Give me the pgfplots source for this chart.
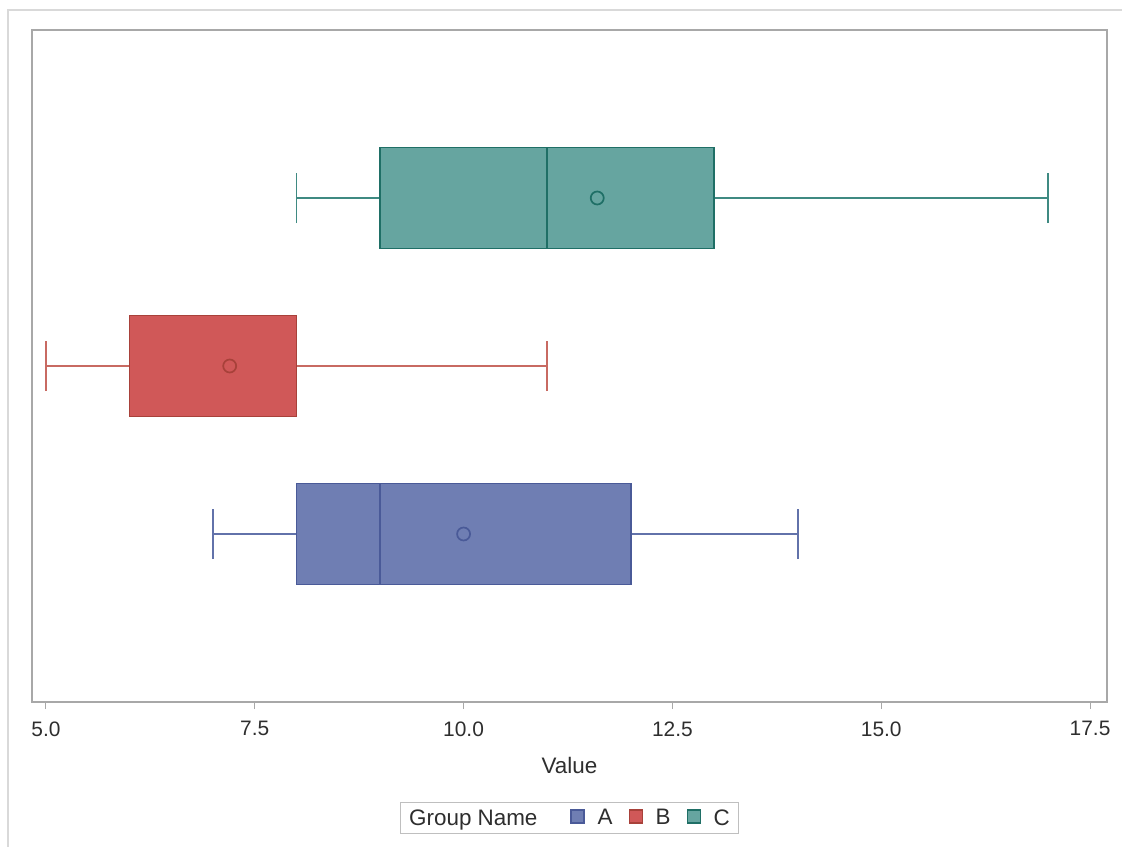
\documentclass[border=0pt]{standalone}
\usepackage{pgfplots}
\pgfplotsset{compat=1.18}
\usepgfplotslibrary{statistics}
\usepackage{fontspec}
\setmainfont{Liberation Sans}
\definecolor{Afill}{HTML}{6F7EB3}
\definecolor{Aline}{HTML}{4A5A98}
\definecolor{Awh}{HTML}{6272AA}
\definecolor{Bfill}{HTML}{D05858}
\definecolor{Bline}{HTML}{A8413A}
\definecolor{Bwh}{HTML}{C86A62}
\definecolor{Cfill}{HTML}{66A5A0}
\definecolor{Cline}{HTML}{1F6F66}
\definecolor{Cwh}{HTML}{3F8A82}
\definecolor{framec}{HTML}{A8A8A8}
\definecolor{txt}{HTML}{2E2E2E}
\begin{document}
\begin{tikzpicture}
\path[use as bounding box] (0,0) rectangle (1122bp,847bp);
\draw[color=black!15, line width=1.5bp] (8bp,0) -- (8bp,837bp) -- (1122bp,837bp);
\begin{axis}[
  at={(32bp,145bp)}, anchor=south west, scale only axis,
  width=1075bp, height=672bp,
  xmin=4.833, xmax=17.703, ymin=0, ymax=4,
  ytick=\empty,
  xtick={5,7.5,10,12.5,15,17.5},
  xtick pos=lower,
  tick align=outside,
  major tick length=7bp,
  tick style={color=framec, line width=1bp},
  axis line style={color=framec, line width=1.3bp},
  xticklabel style={font=\fontsize{21}{25}\selectfont, text=txt, yshift=-9bp,
    /pgf/number format/.cd, fixed, fixed zerofill, precision=1, assume math mode=true},
  xlabel={Value},
  xlabel style={font=\fontsize{22.5}{27}\selectfont, text=txt,
    at={(axis description cs:0.5,-0.0952)}, anchor=center},
  boxplot/box extend=0.6,
  boxplot/whisker extend=0.3,
  legend columns=4,
  legend style={at={(0.5,-0.1726)}, anchor=center, draw=black!25,
    line width=1bp, font=\fontsize{22.5}{27}\selectfont, text=txt,
    inner xsep=7bp, inner ysep=5bp,
    /tikz/every even column/.append style={column sep=14bp}},
]
% A
\addplot[forget plot, line width=1.7bp,
  boxplot prepared={lower whisker=7, lower quartile=8, median=9,
    upper quartile=12, upper whisker=14, draw position=1},
  boxplot/every box/.style={draw=Aline, fill=Afill},
  boxplot/every median/.style={draw=Aline},
  boxplot/every whisker/.style={draw=Awh}] coordinates {};
\addplot[forget plot, only marks, mark=o, mark size=6.5bp,
  mark options={draw=Aline, line width=1.7bp}] coordinates {(10,1)};
% B
\addplot[forget plot, line width=1.7bp,
  boxplot prepared={lower whisker=5, lower quartile=6, median=8,
    upper quartile=8, upper whisker=11, draw position=2},
  boxplot/every box/.style={draw=Bline, fill=Bfill},
  boxplot/every median/.style={draw=Bline},
  boxplot/every whisker/.style={draw=Bwh}] coordinates {};
\addplot[forget plot, only marks, mark=o, mark size=6.5bp,
  mark options={draw=Bline, line width=1.7bp}] coordinates {(7.2,2)};
% C
\addplot[forget plot, line width=1.7bp,
  boxplot prepared={lower whisker=8, lower quartile=9, median=11,
    upper quartile=13, upper whisker=17, draw position=3},
  boxplot/every box/.style={draw=Cline, fill=Cfill},
  boxplot/every median/.style={draw=Cline},
  boxplot/every whisker/.style={draw=Cwh}] coordinates {};
\addplot[forget plot, only marks, mark=o, mark size=6.5bp,
  mark options={draw=Cline, line width=1.7bp}] coordinates {(11.6,3)};
% legend
\addlegendimage{empty legend}
\addlegendentry{Group Name\kern17bp}
\addlegendimage{legend image code/.code={\draw[fill=Afill,draw=Aline,line width=1.2bp] (0bp,-5bp) rectangle (13bp,8bp); \path (24bp,0bp);}}
\addlegendentry{A}
\addlegendimage{legend image code/.code={\draw[fill=Bfill,draw=Bline,line width=1.2bp] (0bp,-5bp) rectangle (13bp,8bp); \path (24bp,0bp);}}
\addlegendentry{B}
\addlegendimage{legend image code/.code={\draw[fill=Cfill,draw=Cline,line width=1.2bp] (0bp,-5bp) rectangle (13bp,8bp); \path (24bp,0bp);}}
\addlegendentry{C}
\end{axis}
\end{tikzpicture}
\end{document}
